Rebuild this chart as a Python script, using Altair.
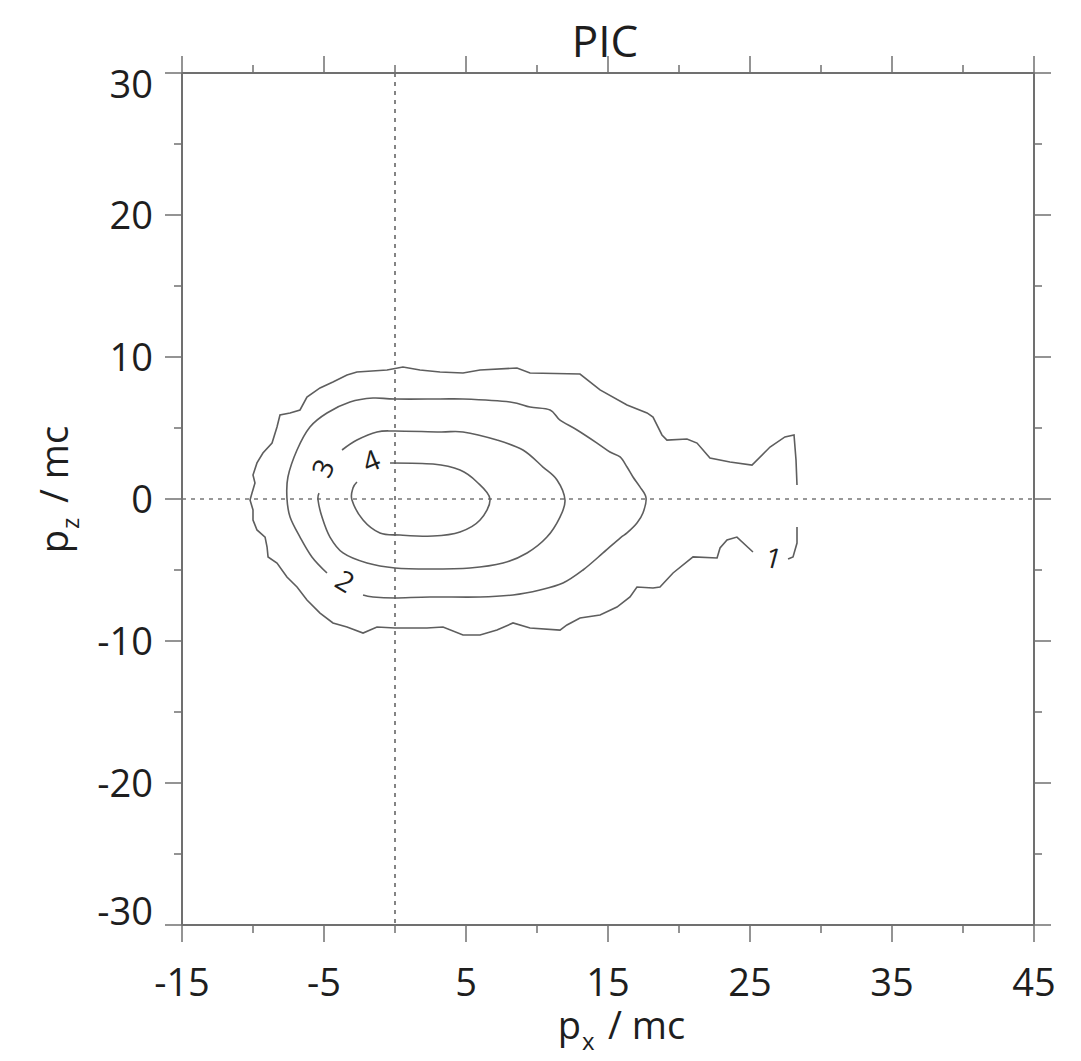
import altair as alt
import pandas as pd

# ---------------- data ----------------
# contour level 1 (outer, open on the right)
c1a_px = [28.31, 28.24, 28.10, 27.46, 26.41, 25.14, 23.59, 22.18, 21.27, 20.56,
          19.15, 18.80, 18.17, 17.75, 16.34, 14.44, 13.03, 9.51, 8.59, 5.99,
          4.79, 3.17, 1.76, 0.56, -0.56, -2.68, -3.38, -4.37, -5.28, -6.20,
          -6.69, -7.39, -8.10, -8.31, -8.66, -9.30, -9.72, -10.00, -9.86, -10.07,
          -10.21, -10.00, -10.00, -9.72, -9.15, -9.01, -8.94, -8.31, -7.61, -6.90,
          -6.20, -5.28, -4.37, -3.38, -2.25, -1.27, 0.00, 2.25, 3.38, 4.79,
          5.99, 7.18, 8.31, 9.51, 11.62, 12.11, 13.03, 14.44, 15.63, 16.55,
          17.04, 18.17, 18.66, 19.58, 20.99, 22.68, 22.89, 23.38, 24.08, 25.21]
c1a_pz = [0.99, 2.75, 4.51, 4.37, 3.66, 2.39, 2.61, 2.89, 3.94, 4.23,
          4.15, 4.51, 5.77, 6.06, 6.62, 7.68, 8.80, 8.87, 9.23, 9.08,
          8.87, 8.94, 9.08, 9.30, 9.08, 8.94, 8.73, 8.24, 7.82, 7.18,
          6.27, 6.06, 5.92, 5.07, 3.94, 3.24, 2.54, 1.69, 1.13, 0.42,
          -0.07, -0.77, -1.48, -2.18, -2.68, -3.38, -4.08, -4.51, -5.49, -6.20,
          -7.11, -8.03, -8.73, -9.01, -9.44, -9.01, -9.08, -9.08, -9.01, -9.58,
          -9.58, -9.23, -8.73, -9.08, -9.23, -8.87, -8.38, -8.17, -7.61, -6.90,
          -6.20, -6.27, -6.20, -5.21, -4.08, -4.15, -3.45, -2.89, -2.68, -3.73]
c1b_px = [28.31, 28.31, 28.03, 27.68]
c1b_pz = [-1.97, -3.10, -4.08, -4.23]

# contour level 2
c2_px = [-4.79, -5.85, -6.69, -7.39, -7.61, -7.54, -6.90, -5.99, -4.79, -3.17,
         -1.55, 0.00, 3.17, 4.79, 8.10, 9.51, 10.92, 11.62, 12.82, 14.23,
         15.14, 15.85, 16.34, 16.76, 17.25, 17.68, 17.46, 17.04, 16.34, 15.85,
         14.65, 13.24, 11.83, 10.21, 8.31, 5.99, 2.46, 0.00, -1.55, -2.25]
c2_pz = [-5.21, -4.08, -2.68, -1.27, 0.07, 1.55, 3.45, 5.07, 6.06, 6.83,
         7.11, 7.04, 7.04, 7.04, 6.83, 6.48, 6.27, 5.56, 4.86, 3.94,
         3.31, 2.96, 2.25, 1.55, 0.85, 0.07, -0.99, -1.69, -2.39, -2.75,
         -3.80, -5.00, -5.92, -6.41, -6.76, -6.90, -6.90, -6.97, -6.90, -6.76]

# contour level 3
c3_px = [-3.73, -2.68, -1.27, 0.00, 3.17, 4.79, 7.18, 9.01, 10.42, 11.41,
         11.97, 11.62, 10.70, 9.30, 7.61, 5.28, 2.46, 0.00, -1.97, -3.66,
         -4.58, -5.14, -5.42, -5.35]
c3_pz = [3.45, 4.15, 4.72, 4.79, 4.72, 4.72, 4.15, 3.45, 2.25, 1.34,
         -0.07, -1.27, -2.68, -3.80, -4.51, -4.86, -4.93, -4.86, -4.51, -3.80,
         -2.68, -1.27, -0.07, 0.42]

# contour level 4
c4_px = [-0.35, 2.68, 4.58, 5.77, 6.69, 5.99, 4.58, 2.68, 0.35, -1.06,
         -2.25, -3.03, -2.96, -2.68]
c4_pz = [2.54, 2.46, 2.04, 1.20, 0.00, -1.48, -2.32, -2.61, -2.54, -2.39,
         -1.48, -0.07, 0.77, 1.20]

# contour labels
lab_txt = ["1", "2", "3", "4"]
lab_px = [26.62, -3.59, -4.93, -1.62]
lab_pz = [-4.30, -5.92, 2.11, 2.54]
lab_ang = [15, 31, 295, 338]

# ticks
x_major = [-15, -5, 5, 15, 25, 35, 45]
x_minor = [-10, 0, 10, 20, 30, 40]
y_major = [-30, -20, -10, 0, 10, 20, 30]
y_minor = [-25, -15, -5, 5, 15, 25]

# ---------------- build ----------------
W, H = 852, 852
FONT = "Open Sans"
LINE = "#5e5e5e"
AX = "#707070"
TXT = "#1e1e1e"

rows = []
def add(level, seg, pxs, pzs):
    assert len(pxs) == len(pzs)
    for i, (a, b) in enumerate(zip(pxs, pzs)):
        rows.append(dict(level=level, seg=seg, i=i, px=a, pz=b))

add(1, "1a", c1a_px, c1a_pz)
add(1, "1b", c1b_px, c1b_pz)
add(2, "2", c2_px, c2_pz)
add(3, "3", c3_px, c3_pz)
add(4, "4", c4_px, c4_pz)
cdf = pd.DataFrame(rows)

xs = alt.Scale(domain=[-15, 45], nice=False, zero=False)
ys = alt.Scale(domain=[-30, 30], nice=False, zero=False)
X = lambda f: alt.X(f, scale=xs, axis=None)
Y = lambda f: alt.Y(f, scale=ys, axis=None)

base = alt.Chart(cdf)
outer = base.transform_filter("datum.level == 1").mark_line(
    color=LINE, strokeWidth=1.6, interpolate="linear").encode(
    x=X("px:Q"), y=Y("pz:Q"), detail="seg:N", order="i:Q")
inner = base.transform_filter("datum.level > 1").mark_line(
    color=LINE, strokeWidth=1.6, interpolate="cardinal").encode(
    x=X("px:Q"), y=Y("pz:Q"), detail="seg:N", order="i:Q")

ldf = pd.DataFrame({"t": lab_txt, "px": lab_px, "pz": lab_pz, "ang": lab_ang})
labels = alt.Chart(ldf).mark_text(font=FONT, fontSize=28, color=TXT,
                                  baseline="middle", align="center").encode(
    x=X("px:Q"), y=Y("pz:Q"), text="t:N", angle=alt.Angle("ang:Q", scale=None))

# dashed zero lines
vline = alt.Chart(pd.DataFrame({"v": [0]})).mark_rule(
    color="#333333", strokeWidth=1.2, strokeDash=[4, 5]).encode(
    x=X("v:Q"), y=alt.value(0), y2=alt.value(H))
hline = alt.Chart(pd.DataFrame({"v": [0]})).mark_rule(
    color="#333333", strokeWidth=1.2, strokeDash=[4, 5]).encode(
    y=Y("v:Q"), x=alt.value(0), x2=alt.value(W))

# frame
frame_df = pd.DataFrame({"k": [0]})
frame = [
    alt.Chart(frame_df).mark_rule(color=AX, strokeWidth=2).encode(
        x=alt.value(0), x2=alt.value(W), y=alt.value(0)),
    alt.Chart(frame_df).mark_rule(color=AX, strokeWidth=2).encode(
        x=alt.value(0), x2=alt.value(W), y=alt.value(H)),
    alt.Chart(frame_df).mark_rule(color=AX, strokeWidth=2).encode(
        y=alt.value(0), y2=alt.value(H), x=alt.value(0)),
    alt.Chart(frame_df).mark_rule(color=AX, strokeWidth=2).encode(
        y=alt.value(0), y2=alt.value(H), x=alt.value(W)),
]

def xticks(vals, length):
    d = alt.Chart(pd.DataFrame({"v": vals}))
    return [
        d.mark_rule(color=AX, strokeWidth=1.5).encode(
            x=X("v:Q"), y=alt.value(H), y2=alt.value(H + length)),
        d.mark_rule(color=AX, strokeWidth=1.5).encode(
            x=X("v:Q"), y=alt.value(0), y2=alt.value(-length)),
    ]

def yticks(vals, length):
    d = alt.Chart(pd.DataFrame({"v": vals}))
    return [
        d.mark_rule(color=AX, strokeWidth=1.5).encode(
            y=Y("v:Q"), x=alt.value(0), x2=alt.value(-length)),
        d.mark_rule(color=AX, strokeWidth=1.5).encode(
            y=Y("v:Q"), x=alt.value(W), x2=alt.value(W + length)),
    ]

ticks = xticks(x_major, 17) + xticks(x_minor, 8) + yticks(y_major, 17) + yticks(y_minor, 8)

# tick labels
xl = alt.Chart(pd.DataFrame({"v": x_major, "t": [str(v) for v in x_major]})).mark_text(
    font=FONT, fontSize=38, color=TXT, align="center", baseline="alphabetic").encode(
    x=X("v:Q"), y=alt.value(H + 71), text="t:N")

ydf = pd.DataFrame({"v": y_major, "t": [str(v) for v in y_major]})
yl_mid = alt.Chart(ydf).transform_filter("abs(datum.v) < 30").mark_text(
    font=FONT, fontSize=38, color=TXT, align="right", baseline="alphabetic", dy=14).encode(
    y=Y("v:Q"), x=alt.value(-29), text="t:N")
yl_top = alt.Chart(ydf).transform_filter("datum.v == 30").mark_text(
    font=FONT, fontSize=38, color=TXT, align="right", baseline="alphabetic", dy=25).encode(
    y=Y("v:Q"), x=alt.value(-29), text="t:N")
yl_bot = alt.Chart(ydf).transform_filter("datum.v == -30").mark_text(
    font=FONT, fontSize=38, color=TXT, align="right", baseline="alphabetic", dy=0).encode(
    y=Y("v:Q"), x=alt.value(-29), text="t:N")

# titles
tdf = pd.DataFrame({"k": [0]})
def txt(s, x, y, size, align="center", angle=0):
    kw = dict(font=FONT, fontSize=size, color=TXT, align=align, baseline="alphabetic", text=s)
    if angle:
        kw["angle"] = angle
    return alt.Chart(tdf).mark_text(**kw).encode(x=alt.value(x), y=alt.value(y))

titles = [
    txt("PIC", 423, -16, 44),
    # x title: p_x / mc
    txt("p", 399, 966, 38, align="right"),
    txt("x", 400, 977, 24, align="left"),
    txt("/ mc", 426, 966, 38, align="left"),
    # y title: p_z / mc (rotated)
    txt("p", -114, 457, 38, align="right", angle=270),
    txt("z", -103, 456, 24, align="left", angle=270),
    txt("/ mc", -114, 430, 38, align="left", angle=270),
]

chart = alt.layer(
    vline, hline, outer, inner, labels, *frame, *ticks, xl, yl_mid, yl_top, yl_bot, *titles
).properties(
    width=W, height=H,
    autosize=alt.AutoSizeParams(type="none"),
    padding={"left": 174, "top": 65, "right": 39, "bottom": 136},
).configure_view(stroke=None).configure(background="white")

chart.save("out.html", embed_options={"renderer": "svg", "actions": False})
